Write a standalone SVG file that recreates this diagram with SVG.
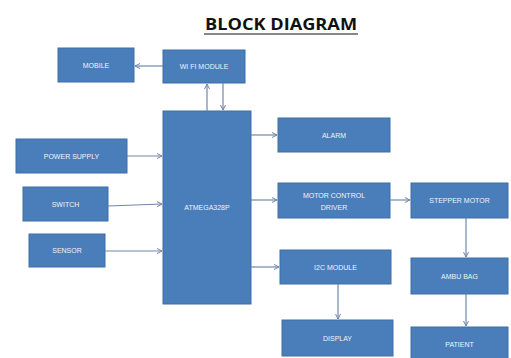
<svg xmlns="http://www.w3.org/2000/svg" width="511" height="358" viewBox="0 0 511 358">
<style>
.box{fill:#4a7ebb;stroke:#3d6ea6;stroke-width:1}
.lbl{font-family:"Liberation Sans",Arial,sans-serif;font-size:7px;fill:#eef3fa;text-anchor:middle;dominant-baseline:central}
.con{stroke:#6f87a8;stroke-width:1.2;fill:none;marker-end:url(#ah)}
.title{font-family:"Open Sans","Liberation Sans",sans-serif;font-weight:bold;font-size:16px;fill:#111}
</style>
<defs>
<marker id="ah" markerWidth="6" markerHeight="6" refX="5" refY="3" orient="auto" markerUnits="userSpaceOnUse">
<path d="M0,0.5 L5,3 L0,5.5" fill="none" stroke="#6f87a8" stroke-width="1"/>
</marker>
</defs>
<rect width="511" height="358" fill="#fff"/>
<g id="title">
<text class="title" x="205" y="30" textLength="152" lengthAdjust="spacingAndGlyphs">BLOCK DIAGRAM</text>
<line x1="204" y1="34" x2="358" y2="34" stroke="#111" stroke-width="1.2"/>
</g>
<g id="mobile"><rect class="box" x="58" y="48" width="76" height="34"/><text class="lbl" x="96" y="65">MOBILE</text></g>
<g id="wifi"><rect class="box" x="163" y="50" width="82" height="33"/><text class="lbl" x="204" y="66.5">WI FI MODULE</text></g>
<g id="atmega"><rect class="box" x="163" y="111" width="88" height="193"/><text class="lbl" x="207" y="207">ATMEGA328P</text></g>
<g id="power"><rect class="box" x="16" y="139" width="111" height="34"/><text class="lbl" x="71.5" y="156">POWER SUPPLY</text></g>
<g id="switch"><rect class="box" x="23" y="187" width="85" height="34"/><text class="lbl" x="65.5" y="204">SWITCH</text></g>
<g id="sensor"><rect class="box" x="29" y="234" width="76" height="33"/><text class="lbl" x="67" y="250.5">SENSOR</text></g>
<g id="alarm"><rect class="box" x="278" y="118" width="112" height="34"/><text class="lbl" x="334" y="135">ALARM</text></g>
<g id="motordriver"><rect class="box" x="278" y="183" width="112" height="35"/><text class="lbl" x="334" y="195">MOTOR CONTROL</text><text class="lbl" x="334" y="207">DRIVER</text></g>
<g id="stepper"><rect class="box" x="411" y="183" width="97" height="35"/><text class="lbl" x="459.5" y="200.5">STEPPER MOTOR</text></g>
<g id="i2c"><rect class="box" x="280" y="250" width="111" height="34"/><text class="lbl" x="335.5" y="267">I2C MODULE</text></g>
<g id="display"><rect class="box" x="282" y="320" width="111" height="36"/><text class="lbl" x="337.5" y="338">DISPLAY</text></g>
<g id="ambubag"><rect class="box" x="411" y="258" width="97" height="36"/><text class="lbl" x="459.5" y="276">AMBU BAG</text></g>
<g id="patient"><rect class="box" x="411" y="327" width="97" height="34"/><text class="lbl" x="459.5" y="344">PATIENT</text></g>
<g id="connectors">
<line class="con" x1="163" y1="66" x2="135" y2="66"/>
<line class="con" x1="207" y1="111" x2="207" y2="84"/>
<line class="con" x1="223" y1="83" x2="223" y2="110"/>
<line class="con" x1="127" y1="156" x2="162" y2="156"/>
<line class="con" x1="108" y1="206" x2="162" y2="204"/>
<line class="con" x1="105" y1="251" x2="162" y2="251"/>
<line class="con" x1="251" y1="135" x2="277" y2="135"/>
<line class="con" x1="251" y1="200" x2="277" y2="200"/>
<line class="con" x1="251" y1="267" x2="279" y2="267"/>
<line class="con" x1="390" y1="200" x2="410" y2="200"/>
<line class="con" x1="466" y1="218" x2="466" y2="257"/>
<line class="con" x1="466" y1="294" x2="466" y2="326"/>
<line class="con" x1="338" y1="284" x2="338" y2="319"/>
</g>
</svg>
